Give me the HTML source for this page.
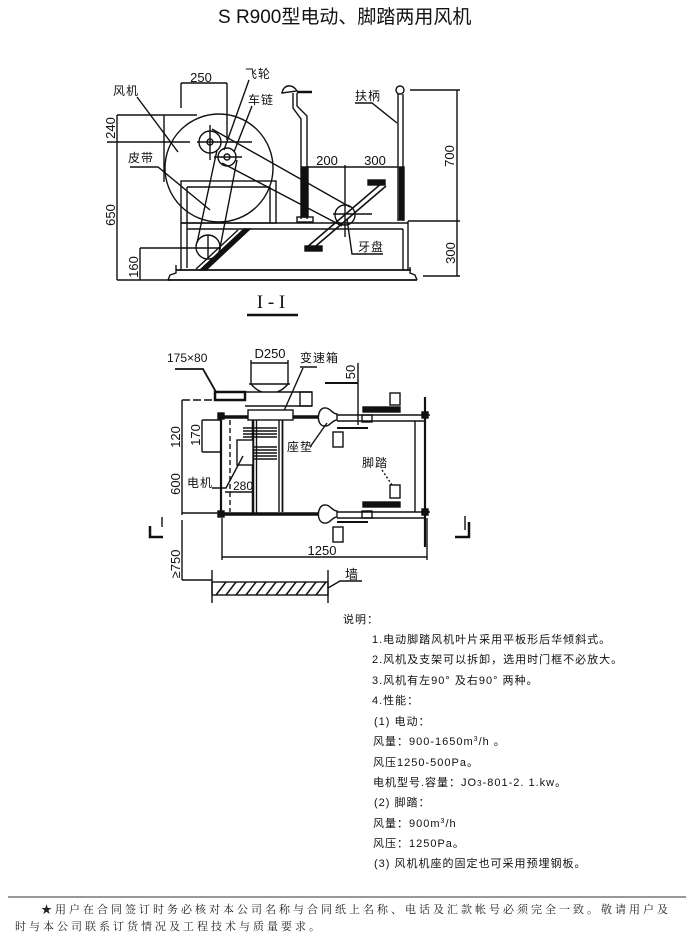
<!DOCTYPE html>
<html><head><meta charset="utf-8"><style>
html,body{margin:0;padding:0;background:#fff;}
svg{display:block}
text{font-family:"Liberation Sans","Noto Sans CJK SC",sans-serif;fill:#111}
.lb{font-size:12px;letter-spacing:1px}
.nm{font-size:13px}
.nt{font-size:11px;letter-spacing:1px;fill:#111}
.ft{font-family:"Liberation Serif","Noto Serif CJK SC",serif;font-size:11px;letter-spacing:3px;fill:#222}
</style></head><body>
<svg width="686" height="935" viewBox="0 0 686 935" xmlns="http://www.w3.org/2000/svg">
<text x="218" y="23" style="font-size:19px">S R900型电动、脚踏两用风机</text>

<g stroke="#111" stroke-width="1.4" fill="none">
<!-- ===== Elevation 1-1 ===== -->
<line x1="181" y1="83" x2="227" y2="83"/>
<line x1="181" y1="83" x2="181" y2="108"/>
<line x1="227" y1="83" x2="227" y2="140"/>
<line x1="137" y1="97" x2="178" y2="152"/>
<line x1="249" y1="80" x2="224" y2="150"/>
<line x1="252" y1="106" x2="234" y2="152"/>
<polyline points="130,167 158,167 210,210"/>
<!-- left dims -->
<line x1="117" y1="115" x2="117" y2="280"/>
<line x1="117" y1="115" x2="197" y2="115"/>
<line x1="107" y1="142" x2="190" y2="142"/>
<line x1="197" y1="142" x2="252" y2="142"/>
<line x1="140" y1="248" x2="185" y2="248"/>
<line x1="140" y1="248" x2="140" y2="280"/>
<line x1="117" y1="280" x2="170" y2="280"/>
<!-- fan -->
<line x1="164" y1="115" x2="164" y2="182"/>
<circle cx="219" cy="168" r="54"/>
<circle cx="210" cy="142" r="11"/>
<circle cx="210" cy="142" r="3"/>
<circle cx="227" cy="157" r="9"/>
<circle cx="227" cy="157" r="3"/>
<line x1="210" y1="125" x2="210" y2="160"/>
<line x1="214" y1="157" x2="242" y2="157"/>
<!-- frame -->
<rect x="181" y="181" width="95" height="42"/>
<line x1="187" y1="187" x2="270" y2="187"/>
<line x1="187" y1="187" x2="187" y2="268"/>
<line x1="270" y1="187" x2="270" y2="223"/>
<line x1="181" y1="223" x2="408" y2="223"/>
<line x1="187" y1="229" x2="403" y2="229"/>
<line x1="181" y1="223" x2="181" y2="270"/>
<line x1="403" y1="229" x2="403" y2="270"/>
<line x1="408" y1="221" x2="408" y2="270"/>
<line x1="176" y1="270" x2="411" y2="270" stroke-width="1.8"/>
<line x1="168" y1="280" x2="417" y2="280" stroke-width="1.8"/>
<polyline points="168,280 170,275 176,273 176,265"/>
<polyline points="417,280 415,275 410,273 410,267"/>
<!-- motor pulley & belt -->
<circle cx="208" cy="247" r="12"/>
<line x1="208" y1="235" x2="208" y2="259"/>
<line x1="185" y1="248" x2="221" y2="248"/>
<polygon points="200,270 206,270 250,229 244,229" fill="#111"/>
<line x1="196" y1="269" x2="238" y2="230"/>
<line x1="197" y1="243" x2="217" y2="150"/>
<line x1="219" y1="253" x2="237" y2="160"/>
<!-- chain -->
<line x1="212" y1="129" x2="350" y2="207"/>
<line x1="222" y1="163" x2="342" y2="226"/>
<circle cx="345" cy="215" r="10"/>
<line x1="333" y1="214" x2="372" y2="214"/>
<line x1="345" y1="165" x2="345" y2="237"/>
<!-- crank -->
<line x1="306" y1="248" x2="382" y2="183" stroke-width="1.6"/>
<line x1="310" y1="251" x2="386" y2="186" stroke-width="1.6"/>
<rect x="368" y="180" width="17" height="5" fill="#111"/>
<rect x="305" y="246" width="17" height="5" fill="#111"/>
<!-- seat -->
<path d="M282,93 C283,85 292,83 297,91 Z"/>
<line x1="297" y1="92" x2="312" y2="92" stroke-width="2.5"/>
<polyline points="293,93 293,108 301,119 301,219"/>
<polyline points="297,93 297,106 307,116 307,219"/>
<rect x="302" y="167" width="6" height="50" fill="#111"/>
<rect x="297" y="217" width="16" height="5"/>
<!-- handle -->
<circle cx="400" cy="90" r="4"/>
<line x1="398" y1="94" x2="398" y2="221"/>
<line x1="403" y1="94" x2="403" y2="221"/>
<rect x="399.5" y="167" width="4.5" height="53" fill="#111"/>
<polyline points="355,103 372,103 397,123"/>
<!-- 200/300 -->
<line x1="307" y1="167" x2="398" y2="167"/>
<!-- 700/300 -->
<line x1="457" y1="90" x2="457" y2="276"/>
<line x1="410" y1="90" x2="460" y2="90"/>
<line x1="408" y1="221" x2="460" y2="221"/>
<line x1="423" y1="276" x2="460" y2="276"/>
<polyline points="347,219 352,254 383,254"/>
<line x1="247" y1="315" x2="298" y2="315" stroke-width="2.4"/>

<!-- ===== Plan view ===== -->
<polyline points="175,369 203,369 216,392" stroke-width="1.8"/>
<line x1="251" y1="363" x2="288" y2="363"/>
<line x1="251" y1="360" x2="251" y2="384"/>
<line x1="288" y1="360" x2="288" y2="384"/>
<line x1="249" y1="384" x2="290" y2="384"/>
<path d="M251,384 Q256,390 262,392 M288,384 Q283,390 277,392"/>
<line x1="303" y1="368" x2="283" y2="413"/>
<line x1="300" y1="367" x2="317" y2="367"/>
<line x1="358" y1="363" x2="358" y2="425"/>
<line x1="325" y1="383" x2="358" y2="383" stroke-width="2"/>
<rect x="215" y="392" width="30" height="8" stroke-width="2.5"/>
<line x1="245" y1="392" x2="312" y2="392"/>
<line x1="245" y1="406" x2="312" y2="406"/>
<rect x="300" y="392" width="12" height="14"/>
<line x1="182" y1="400" x2="215" y2="400" stroke-dasharray="8 3"/>
<line x1="182" y1="400" x2="182" y2="515"/>
<line x1="182" y1="513" x2="220" y2="513"/>
<line x1="202" y1="420" x2="220" y2="420"/>
<line x1="202" y1="420" x2="202" y2="452"/>
<line x1="202" y1="452" x2="220" y2="452"/>
<!-- frame -->
<line x1="220" y1="417" x2="320" y2="417" stroke-width="3.5"/>
<line x1="337" y1="415" x2="430" y2="415"/>
<line x1="337" y1="421" x2="425" y2="421"/>
<line x1="220" y1="514" x2="320" y2="514" stroke-width="3.5"/>
<line x1="337" y1="512" x2="430" y2="512"/>
<line x1="337" y1="518" x2="425" y2="518"/>
<rect x="218" y="413" width="6" height="6" fill="#111"/>
<rect x="218" y="511" width="6" height="6" fill="#111"/>
<rect x="422" y="412" width="6" height="6" fill="#111"/>
<rect x="422" y="509" width="6" height="6" fill="#111"/>
<line x1="221" y1="417" x2="221" y2="515" stroke-width="2.2"/>
<line x1="425" y1="397" x2="425" y2="547" stroke-width="2.2"/>
<line x1="415" y1="421" x2="415" y2="512"/>
<line x1="230" y1="420" x2="230" y2="512" stroke-dasharray="5 3"/>
<line x1="253" y1="420" x2="253" y2="515" stroke-width="2.5"/>
<line x1="256.5" y1="420" x2="256.5" y2="515"/>
<line x1="279" y1="420" x2="279" y2="512"/>
<line x1="282.5" y1="420" x2="282.5" y2="512" stroke-width="1.8"/>
<rect x="248" y="410" width="45" height="10" fill="#fff"/>
<g stroke-width="1.4">
<line x1="243" y1="428" x2="277" y2="428"/><line x1="243" y1="431" x2="277" y2="431"/>
<line x1="243" y1="434" x2="277" y2="434"/><line x1="243" y1="437" x2="277" y2="437"/>
<line x1="237" y1="447" x2="277" y2="447"/><line x1="237" y1="450" x2="277" y2="450"/>
<line x1="237" y1="453" x2="277" y2="453"/><line x1="237" y1="456" x2="277" y2="456"/>
<line x1="237" y1="459" x2="277" y2="459"/>
</g>
<rect x="237" y="440" width="16" height="25" fill="#fff"/>
<line x1="225" y1="492" x2="253" y2="492"/>
<!-- bulbs & pedals -->
<path d="M337,414 C332,414 330,407 324,408 C317,409 316,425 324,426 C330,427 332,420 337,420 Z" fill="#fff"/>
<path d="M337,511 C332,511 330,504 324,505 C317,506 316,522 324,523 C330,524 332,517 337,517 Z" fill="#fff"/>
<rect x="363" y="407" width="37" height="5" fill="#111"/>
<rect x="390" y="393" width="10" height="12"/>
<rect x="362" y="415" width="10" height="7"/>
<line x1="337" y1="428" x2="368" y2="428" stroke-width="2"/>
<rect x="333" y="432" width="10" height="15"/>
<rect x="363" y="502" width="37" height="5" fill="#111"/>
<rect x="390" y="485" width="10" height="13"/>
<rect x="362" y="511" width="10" height="7"/>
<line x1="337" y1="522" x2="368" y2="522" stroke-width="2"/>
<rect x="333" y="527" width="10" height="15"/>
<line x1="310" y1="447" x2="327" y2="423"/>
<line x1="382" y1="470" x2="392" y2="485" stroke-dasharray="2 2"/>
<polyline points="212,488 226,488 243,456"/>
<!-- section markers -->
<polyline points="150,526 150,537 163,537" stroke-width="2.5"/>
<line x1="162" y1="517" x2="162" y2="527"/>
<polyline points="455,537 469,537 469,522" stroke-width="2.5"/>
<line x1="465" y1="516" x2="465" y2="530"/>
<!-- 1250 -->
<line x1="222" y1="557" x2="427" y2="557"/>
<line x1="222" y1="518" x2="222" y2="560"/>
<line x1="427" y1="518" x2="427" y2="560"/>
<line x1="182" y1="520" x2="182" y2="580"/>
<line x1="182" y1="580" x2="212" y2="580"/>
<!-- wall -->
<rect x="212" y="582" width="116" height="13"/>
<line x1="212" y1="570" x2="212" y2="603"/>
<line x1="328" y1="570" x2="328" y2="603"/>
<g stroke-width="1.5">
<line x1="216" y1="595" x2="226" y2="582"/><line x1="226" y1="595" x2="236" y2="582"/>
<line x1="236" y1="595" x2="246" y2="582"/><line x1="246" y1="595" x2="256" y2="582"/>
<line x1="256" y1="595" x2="266" y2="582"/><line x1="266" y1="595" x2="276" y2="582"/>
<line x1="276" y1="595" x2="286" y2="582"/><line x1="286" y1="595" x2="296" y2="582"/>
<line x1="296" y1="595" x2="306" y2="582"/><line x1="306" y1="595" x2="316" y2="582"/>
<line x1="316" y1="595" x2="326" y2="582"/>
</g>
<polyline points="362,581 340,581 328,588"/>

<!-- footer rule -->
<line x1="8" y1="897" x2="686" y2="897" stroke="#777" stroke-width="1.5"/>
</g>

<!-- elevation labels -->
<text class="nm" x="201" y="82" text-anchor="middle">250</text>
<text class="lb" x="113" y="95">风机</text>
<text class="lb" x="245" y="78">飞轮</text>
<text class="lb" x="248" y="104">车链</text>
<text class="lb" x="128" y="162">皮带</text>
<text class="nm" transform="translate(115,128) rotate(-90)" text-anchor="middle">240</text>
<text class="nm" transform="translate(115,215) rotate(-90)" text-anchor="middle">650</text>
<text class="nm" transform="translate(138,267) rotate(-90)" text-anchor="middle">160</text>
<text class="lb" x="355" y="100">扶柄</text>
<text class="nm" x="327" y="165" text-anchor="middle">200</text>
<text class="nm" x="375" y="165" text-anchor="middle">300</text>
<text class="nm" transform="translate(454,156) rotate(-90)" text-anchor="middle">700</text>
<text class="nm" transform="translate(455,253) rotate(-90)" text-anchor="middle">300</text>
<text class="lb" x="358" y="251">牙盘</text>
<text x="271" y="308" text-anchor="middle" style="font-family:'Liberation Serif',serif;font-size:19px">I - I</text>

<!-- plan labels -->
<text class="lb" x="167" y="362" style="letter-spacing:0">175×80</text>
<text class="nm" x="270" y="358" text-anchor="middle">D250</text>
<text class="lb" x="300" y="362">变速箱</text>
<text class="nm" transform="translate(355,372) rotate(-90)" text-anchor="middle">50</text>
<text class="nm" transform="translate(180,437) rotate(-90)" text-anchor="middle">120</text>
<text class="nm" transform="translate(200,435) rotate(-90)" text-anchor="middle">170</text>
<text class="nm" transform="translate(180,484) rotate(-90)" text-anchor="middle">600</text>
<text class="lb" x="287" y="451">座垫</text>
<text class="lb" x="362" y="467">脚踏</text>
<text class="lb" x="187" y="487">电机</text>
<text x="233" y="490" style="font-size:12px">280</text>
<text class="nm" x="322" y="555" text-anchor="middle">1250</text>
<text class="nm" transform="translate(180,564) rotate(-90)" text-anchor="middle">≥750</text>
<text class="nm" x="345" y="579">墙</text>

<!-- notes -->
<text class="nt" x="343" y="623">说明：</text>
<text class="nt" x="372" y="643">1.电动脚踏风机叶片采用平板形后华倾斜式。</text>
<text class="nt" x="372" y="663">2.风机及支架可以拆卸，选用时门框不必放大。</text>
<text class="nt" x="372" y="684">3.风机有左90°&#160;及右90°&#160;两种。</text>
<text class="nt" x="372" y="704">4.性能：</text>
<text class="nt" x="374" y="725">(1) 电动：</text>
<text class="nt" x="373" y="745">风量：900-1650m<tspan dy="-4" style="font-size:7px">3</tspan><tspan dy="4">/h&#160;。</tspan></text>
<text class="nt" x="373" y="766">风压1250-500Pa。</text>
<text class="nt" x="373" y="786">电机型号.容量：JO<tspan style="font-size:8px">3</tspan>-801-2.&#160;1.kw。</text>
<text class="nt" x="374" y="806">(2) 脚踏：</text>
<text class="nt" x="373" y="827">风量：900m<tspan dy="-4" style="font-size:7px">3</tspan><tspan dy="4">/h</tspan></text>
<text class="nt" x="373" y="847">风压：1250Pa。</text>
<text class="nt" x="374" y="867">(3) 风机机座的固定也可采用预埋钢板。</text>

<!-- footer -->
<text class="ft" x="41" y="913">★用户在合同签订时务必核对本公司名称与合同纸上名称、电话及汇款帐号必须完全一致。敬请用户及</text>
<text class="ft" x="15" y="930">时与本公司联系订货情况及工程技术与质量要求。</text>
</svg>
</body></html>
